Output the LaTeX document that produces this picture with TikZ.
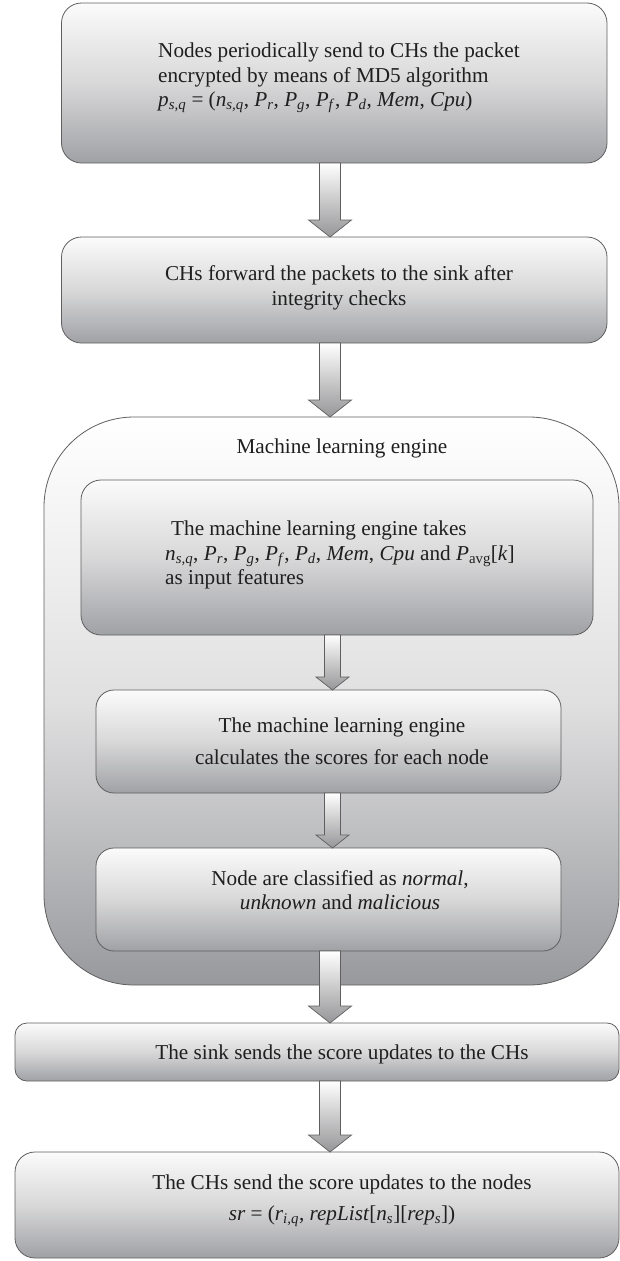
\documentclass[tikz,border=0pt]{standalone}
\usepackage{fontspec}
\setmainfont{Liberation Serif}
\usetikzlibrary{calc}
\definecolor{boxtop}{RGB}{251,251,251}
\definecolor{boxmid}{RGB}{216,216,217}
\definecolor{boxbot}{RGB}{160,161,165}
\definecolor{edgec}{RGB}{95,95,95}
\definecolor{arrbot}{RGB}{150,150,152}
\newcommand{\vv}[2]{\textit{#1}\textsubscript{\textit{#2}}}
\newcommand{\flowarrow}[6]{%
  \path[flowarr] let \p1=(#1.south), \p2=(#2.north) in
  (#3pt-#4pt,\y1) -- (#3pt+#4pt,\y1) -- (#3pt+#4pt,\y2+#6pt) -- (#3pt+#5pt,\y2+#6pt)
  -- (#3pt,\y2) -- (#3pt-#5pt,\y2+#6pt) -- (#3pt-#4pt,\y2+#6pt) -- cycle;}
\begin{document}
\begin{tikzpicture}[x=1pt,y=-1pt,
  box/.style={rectangle, draw=edgec, line width=0.8pt, top color=boxtop, bottom color=boxbot, middle color=boxmid, inner sep=0pt, outer sep=0pt},
  bigbox/.style={rectangle, draw=edgec, line width=0.8pt, top color=white, bottom color=boxbot!95!black, middle color=boxmid!80!white, inner sep=0pt, outer sep=0pt},
  txt/.style={font=\fontsize{21.2}{24.5}\selectfont, inner sep=0pt, text=black!88},
  flowarr/.style={draw=edgec, line width=0.7pt, top color=white, bottom color=arrbot, line join=miter}]
\useasboundingbox (0,0) rectangle (620,1261);

% boxes
\node[box, rounded corners=20pt, minimum width=545.5pt, minimum height=160pt] (b1) at (334.25,83) {};
\node[box, rounded corners=20pt, minimum width=545.5pt, minimum height=106pt] (b2) at (334.25,290) {};
\node[bigbox, rounded corners=90pt, minimum width=575pt, minimum height=568pt] (ml) at (331.5,701) {};
\node[box, rounded corners=20pt, minimum width=512pt, minimum height=155pt] (i1) at (337,557.5) {};
\node[box, rounded corners=18pt, minimum width=465pt, minimum height=103pt] (i2) at (328.5,741.5) {};
\node[box, rounded corners=18pt, minimum width=465pt, minimum height=103pt] (i3) at (328.5,899.5) {};
\node[box, rounded corners=12pt, minimum width=604pt, minimum height=58pt] (sink) at (317,1052) {};
\node[box, rounded corners=20pt, minimum width=604pt, minimum height=106pt] (last) at (317,1205) {};

% texts
\node[txt, anchor=west, align=left] (t1) at (158,78) {Nodes periodically send to CHs the packet\\
encrypted by means of MD5 algorithm\\
\vv{p}{s,q} = (\vv{n}{s,q}, \vv{P}{r}, \vv{P}{g}, \vv{P}{f}, \vv{P}{d}, \textit{Mem}, \textit{Cpu})};
\node[txt, align=center] (t2) at (339,288) {CHs forward the packets to the sink after\\ integrity checks};
\node[txt] (tml) at (342,448) {Machine learning engine};
\node[txt, anchor=west, align=left] (t3) at (165,555) {\hspace*{6pt}The machine learning engine takes\\
\vv{n}{s,q}, \vv{P}{r}, \vv{P}{g}, \vv{P}{f}, \vv{P}{d}, \textit{Mem}, \textit{Cpu} and \textit{P}\textsubscript{avg}[\textit{k}]\\
as input features};
\node[txt, align=center] (t4) at (342,741) {The machine learning engine\\[8pt] calculates the scores for each node};
\node[txt, align=center] (t5) at (340,890) {Node are classified as \textit{normal},\\ \textit{unknown} and \textit{malicious}};
\node[txt] (t6) at (342,1054) {The sink sends the score updates to the CHs};
\node[txt, align=center] (t7) at (342,1201) {The CHs send the score updates to the nodes\\[6pt]
\textit{sr} = (\vv{r}{i,q}, \textit{repList}[\vv{n}{s}][\vv{rep}{s}])};

% arrows
\flowarrow{b1}{b2}{330}{10.5}{21.5}{17}
\flowarrow{b2}{ml}{330}{10.5}{21.5}{17}
\flowarrow{i1}{i2}{332.5}{8}{16.5}{13}
\flowarrow{i2}{i3}{332.5}{8}{16.5}{13}
\flowarrow{i3}{sink}{330}{10.5}{21.5}{17}
\flowarrow{sink}{last}{330}{10.5}{21.5}{17}
\end{tikzpicture}
\end{document}
